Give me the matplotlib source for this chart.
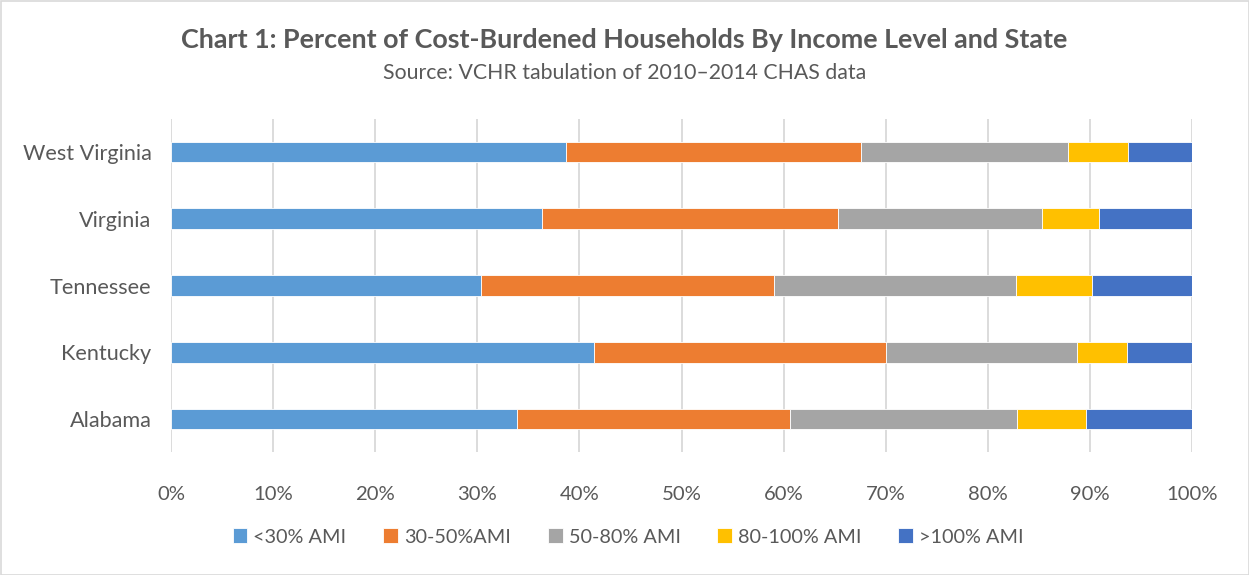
import matplotlib
matplotlib.use("Agg")
import matplotlib.pyplot as plt
import numpy as np
from matplotlib.patches import Rectangle

states = ["Alabama", "Kentucky", "Tennessee", "Virginia", "West Virginia"]
series_names = ["<30% AMI", "30-50%AMI", "50-80% AMI", "80-100% AMI", ">100% AMI"]
lt30 = [33.9, 41.4, 30.4, 36.35, 38.65]
p30_50 = [26.7, 28.6, 28.7, 28.95, 28.95]
p50_80 = [22.3, 18.7, 23.7, 20.0, 20.3]
p80_100 = [6.7, 4.9, 7.4, 5.6, 5.8]
gt100 = [10.4, 6.4, 9.8, 9.1, 6.3]
colors = ["#5B9BD5", "#ED7D31", "#A5A5A5", "#FFC000", "#4472C4"]
xticks = [0, 10, 20, 30, 40, 50, 60, 70, 80, 90, 100]

plt.rcParams['font.family'] = ['Lato', 'DejaVu Sans']
txt = "#595959"

fig = plt.figure(figsize=(12.49, 5.75), dpi=100)
ax = fig.add_axes([171/1249, 1-452.4/575, (1192-171)/1249, (452.4-118.6)/575])

data = [lt30, p30_50, p50_80, p80_100, gt100]
y = np.arange(len(states))
left = np.zeros(len(states))
for name, vals, c in zip(series_names, data, colors):
    vals = np.array(vals)
    ax.barh(y, vals, left=left, height=0.31, color=c, label=name,
            edgecolor="white", linewidth=0.6, zorder=3)
    left += vals

ax.set_xlim(0, 100)
ax.set_ylim(-0.5, len(states) - 0.5)
ax.set_xticks(xticks)
ax.set_xticklabels([f"{v}%" for v in xticks])
ax.set_yticks(y)
ax.set_yticklabels(states)
ax.tick_params(axis='both', length=0, colors=txt)
ax.tick_params(axis='x', pad=24, labelsize=14.6)
ax.tick_params(axis='y', pad=14, labelsize=15.6)
for s in ax.spines.values():
    s.set_visible(False)
ax.grid(axis='x', color="#D9D9D9", linewidth=1.3, zorder=0)
ax.set_axisbelow(True)

fig.text(0.5, 1-40/575, "Chart 1: Percent of Cost-Burdened Households By Income Level and State",
         ha='center', va='center', fontsize=19.4, fontweight='bold', color=txt)
fig.text(0.5, 1-73/575, "Source: VCHR tabulation of 2010\u20132014 CHAS data",
         ha='center', va='center', fontsize=15.3, color=txt)

leg = fig.legend(loc='center', bbox_to_anchor=(0.503, 1-537/575), ncol=5, frameon=False,
                 fontsize=14.3, handlelength=0.75, handleheight=0.75, handletextpad=0.3,
                 columnspacing=1.85, labelcolor=txt)

fig.patches.append(Rectangle((0.5/1249, 0.5/575), 1-1/1249, 1-1/575, transform=fig.transFigure,
                             fill=False, edgecolor="#D9D9D9", linewidth=1.2))

fig.savefig("out.png", dpi=100, facecolor="white")
